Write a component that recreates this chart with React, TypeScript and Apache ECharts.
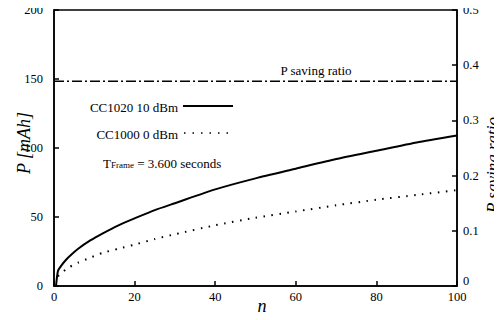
import React, { useEffect, useRef } from "react";
import * as echarts from "echarts";

const xTicks = [0, 20, 40, 60, 80, 100];
const leftTicks = [0, 50, 100, 150, 200];
const rightTicks = [0, 0.1, 0.2, 0.3, 0.4, 0.5];

const nSolid = [0.5, 1, 2, 3, 4, 6, 9, 12, 16, 20, 25, 30, 40, 50, 60, 70, 80, 90, 100];
const cc1020 = [0, 11, 15.5, 19, 22, 27, 33, 38, 44, 49, 55, 60, 70, 78, 85, 92, 98, 104, 109];

const nDotted = [1, 2, 3, 4, 6, 9, 12, 16, 20, 25, 30, 40, 50, 60, 70, 80, 90, 100];
const cc1000 = [7, 10, 12, 14, 17, 20.5, 24, 27, 30, 34, 37.5, 44, 49.5, 54, 58.5, 62.5, 66, 69.5];

const nRatio = [0, 100];
const savingRatio = [0.371, 0.371];

const FONT = "'Liberation Serif', 'DejaVu Serif', serif";

export default function App() {
  const ref = useRef<HTMLDivElement>(null);

  useEffect(() => {
    if (!ref.current) return;
    const chart = echarts.init(ref.current, null, { renderer: "svg" });
    const axisLine = { show: true, lineStyle: { color: "#000", width: 1.5 } };
    const axisTick = { show: true, inside: true, length: 5, lineStyle: { color: "#000", width: 1.5 } };
    const labelBase = { color: "#000", fontFamily: FONT, fontSize: 12.5 };
    chart.setOption({
      animation: false,
      backgroundColor: "#fff",
      grid: {
        left: 54,
        right: 45,
        top: 10,
        bottom: 34,
        show: true,
        borderColor: "#000",
        borderWidth: 1.5,
        backgroundColor: "transparent",
      },
      xAxis: {
        type: "value",
        min: xTicks[0],
        max: xTicks[xTicks.length - 1],
        interval: 20,
        axisLine,
        axisTick,
        splitLine: { show: false },
        axisLabel: { ...labelBase, margin: 4 },
      },
      yAxis: [
        {
          type: "value",
          min: leftTicks[0],
          max: leftTicks[leftTicks.length - 1],
          interval: 50,
          position: "left",
          axisLine,
          axisTick,
          splitLine: { show: false },
          axisLabel: { ...labelBase, margin: 11 },
        },
        {
          type: "value",
          min: rightTicks[0],
          max: rightTicks[rightTicks.length - 1],
          interval: 0.1,
          position: "right",
          axisLine,
          axisTick,
          splitLine: { show: false },
          axisLabel: {
            ...labelBase,
            margin: 6,
            formatter: (v: number) => (v === 0 ? "{z|0}" : String(Math.round(v * 10) / 10)),
            rich: { z: { ...labelBase, padding: [0, 0, 10, 0] } },
          },
        },
      ],
      series: [
        {
          type: "line",
          name: "CC1020 10 dBm",
          data: nSolid.map((n, i) => [n, cc1020[i]]),
          showSymbol: false,
          smooth: 0.2,
          lineStyle: { color: "#000", width: 2 },
        },
        {
          type: "line",
          name: "CC1000 0 dBm",
          data: nDotted.map((n, i) => [n, cc1000[i]]),
          showSymbol: false,
          smooth: 0.2,
          lineStyle: { color: "#000", width: 2, type: [1.5, 6.5] },
        },
        {
          type: "line",
          name: "P saving ratio",
          yAxisIndex: 1,
          data: nRatio.map((n, i) => [n, savingRatio[i]]),
          showSymbol: false,
          lineStyle: { color: "#000", width: 1.5, type: [10, 3, 2, 3] },
        },
      ],
      graphic: [
        {
          type: "text",
          x: 24,
          y: 143,
          rotation: Math.PI / 2,
          style: {
            text: "P [mAh]",
            font: `italic 18px ${FONT}`,
            fill: "#000",
            textAlign: "center",
            textVerticalAlign: "middle",
          },
        },
        {
          type: "text",
          x: 492,
          y: 165,
          rotation: Math.PI / 2,
          style: {
            text: "P saving ratio",
            font: `italic 17px ${FONT}`,
            fill: "#000",
            textAlign: "center",
            textVerticalAlign: "middle",
          },
        },
        {
          type: "text",
          x: 262,
          y: 306,
          style: {
            text: "n",
            font: `italic 18px ${FONT}`,
            fill: "#000",
            textAlign: "center",
            textVerticalAlign: "middle",
          },
        },
        {
          type: "text",
          x: 316,
          y: 70,
          style: {
            text: "P saving ratio",
            font: `13px ${FONT}`,
            fill: "#000",
            textAlign: "center",
            textVerticalAlign: "middle",
          },
        },
        {
          type: "text",
          x: 178,
          y: 107,
          style: {
            text: "CC1020 10 dBm",
            font: `13px ${FONT}`,
            fill: "#000",
            textAlign: "right",
            textVerticalAlign: "middle",
          },
        },
        {
          type: "line",
          shape: { x1: 183, y1: 106, x2: 233, y2: 106 },
          style: { stroke: "#000", lineWidth: 2 },
        },
        {
          type: "text",
          x: 178,
          y: 134,
          style: {
            text: "CC1000 0 dBm",
            font: `13px ${FONT}`,
            fill: "#000",
            textAlign: "right",
            textVerticalAlign: "middle",
          },
        },
        {
          type: "line",
          shape: { x1: 184, y1: 133, x2: 232, y2: 133 },
          style: { stroke: "#000", lineWidth: 1.5, lineDash: [1.5, 7] },
        },
        {
          type: "text",
          x: 103,
          y: 163,
          style: {
            text: "{a|T}{b|Frame}{a| = 3.600 seconds}",
            textVerticalAlign: "middle",
            rich: {
              a: { font: `13px ${FONT}`, fill: "#000" },
              b: { font: `9px ${FONT}`, fill: "#000", padding: [3, 0, 0, 0] },
            },
          },
        },
      ],
    });
    return () => chart.dispose();
  }, []);

  return <div ref={ref} style={{ width: 502, height: 320, margin: -8 }} />;
}
